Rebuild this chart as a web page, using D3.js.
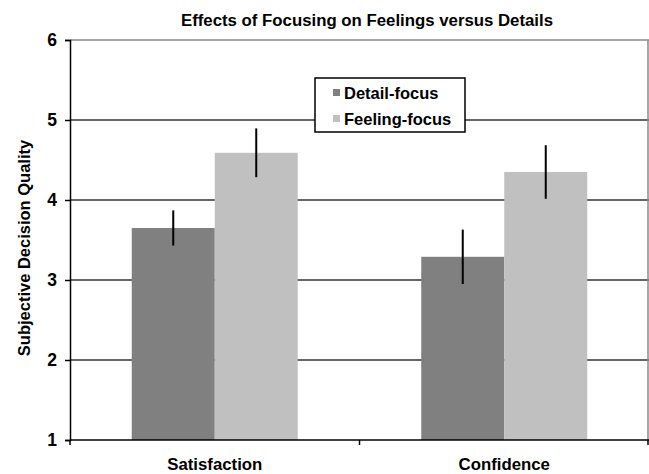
<!DOCTYPE html>
<html>
<head>
<meta charset="utf-8">
<script src="https://cdn.jsdelivr.net/npm/d3@7/dist/d3.min.js"></script>
<style>
  html, body { margin: 0; padding: 0; background: #fff; }
  svg { display: block; }
  text { font-family: "Liberation Sans", Arial, Helvetica, sans-serif; font-weight: bold; fill: #000; }
</style>
</head>
<body>
<svg id="chart" width="649" height="474"></svg>
<script>
const categories = ["Satisfaction", "Confidence"];
const seriesNames = ["Detail-focus", "Feeling-focus"];
const detailValues = [3.65, 3.29];
const detailErrors = [0.22, 0.34];
const feelingValues = [4.59, 4.35];
const feelingErrors = [0.305, 0.335];
const yTicks = [1, 2, 3, 4, 5, 6];
const title = "Effects of Focusing on Feelings versus Details";
const yLabel = "Subjective Decision Quality";
const colors = ["#808080", "#c0c0c0"];

(function () {
const rows = categories.map((c, i) => ({
  category: c,
  values: [
    { series: seriesNames[0], value: detailValues[i], err: detailErrors[i] },
    { series: seriesNames[1], value: feelingValues[i], err: feelingErrors[i] }
  ]
}));

const svg = d3.select("#chart");
const mLeft = 70, mRight = 649, mTop = 40, mBottom = 440;

const x0 = d3.scaleBand().domain(categories).range([mLeft, mRight]).padding(0);
const x1 = d3.scaleBand().domain(seriesNames).range([0, x0.bandwidth()]).paddingInner(0).paddingOuter(0.744);
const y = d3.scaleLinear().domain([1, 6]).range([mBottom, mTop]);
const color = d3.scaleOrdinal().domain(seriesNames).range(colors);

// gridlines
svg.append("g").selectAll("line").data(yTicks.filter(t => t > 1 && t < 6)).join("line")
  .attr("x1", mLeft).attr("x2", mRight)
  .attr("y1", d => y(d)).attr("y2", d => y(d))
  .attr("stroke", "#333").attr("stroke-width", 1.5);

// top and right border
svg.append("line").attr("x1", mLeft).attr("x2", mRight).attr("y1", y(6)).attr("y2", y(6))
  .attr("stroke", "#8a8a8a").attr("stroke-width", 1.5);
svg.append("line").attr("x1", mRight - 1).attr("x2", mRight - 1).attr("y1", y(6)).attr("y2", mBottom)
  .attr("stroke", "#8a8a8a").attr("stroke-width", 1.5);

// bars
const groups = svg.append("g").selectAll("g").data(rows).join("g")
  .attr("transform", d => `translate(${x0(d.category)},0)`);
groups.selectAll("rect").data(d => d.values).join("rect")
  .attr("x", d => x1(d.series))
  .attr("width", x1.bandwidth())
  .attr("y", d => y(d.value))
  .attr("height", d => y(1) - y(d.value))
  .attr("fill", d => color(d.series));
groups.selectAll("line.err").data(d => d.values).join("line")
  .attr("class", "err")
  .attr("x1", d => x1(d.series) + x1.bandwidth() / 2)
  .attr("x2", d => x1(d.series) + x1.bandwidth() / 2)
  .attr("y1", d => y(d.value - d.err))
  .attr("y2", d => y(d.value + d.err))
  .attr("stroke", "#000").attr("stroke-width", 2);

// y axis
const yAxis = svg.append("g").attr("transform", `translate(${mLeft},0)`)
  .call(d3.axisLeft(y).tickValues(yTicks).tickFormat(d3.format("d")).tickSize(5).tickPadding(8));
yAxis.select(".domain").attr("stroke", "#000").attr("stroke-width", 1.5);
yAxis.selectAll(".tick line").attr("stroke", "#000").attr("stroke-width", 1.5);
yAxis.selectAll(".tick text").style("font-size", "17.5px").style("font-weight", "bold")
  .style("font-family", "'Liberation Sans', Arial, sans-serif").attr("fill", "#000");

// x axis
const xAxisG = svg.append("g").attr("transform", `translate(0,${mBottom})`);
xAxisG.append("line").attr("x1", mLeft).attr("x2", mRight).attr("y1", 0).attr("y2", 0)
  .attr("stroke", "#000").attr("stroke-width", 1.5);
const boundaries = categories.map(c => x0(c)).concat([x0(categories[categories.length - 1]) + x0.bandwidth() - 1]);
xAxisG.selectAll("line.tk").data(boundaries).join("line").attr("class", "tk")
  .attr("x1", d => d).attr("x2", d => d).attr("y1", 0).attr("y2", 5)
  .attr("stroke", "#000").attr("stroke-width", 1.5);
xAxisG.selectAll("text").data(categories).join("text")
  .attr("x", d => x0(d) + x0.bandwidth() / 2)
  .attr("y", 29.5)
  .attr("text-anchor", "middle")
  .style("font-size", "16.8px")
  .text(d => d);

// title
svg.append("text").attr("x", 367).attr("y", 26).attr("text-anchor", "middle")
  .style("font-size", "16.8px").text(title);

// y label
svg.append("text").attr("transform", `translate(30,248) rotate(-90)`)
  .attr("text-anchor", "middle").style("font-size", "16.5px").text(yLabel);

// legend
const lg = svg.append("g").attr("transform", "translate(315,78)");
lg.append("rect").attr("x", 0).attr("y", 0).attr("width", 150).attr("height", 54)
  .attr("fill", "#fff").attr("stroke", "#000").attr("stroke-width", 1.5);
const items = lg.selectAll("g").data(seriesNames).join("g")
  .attr("transform", (d, i) => `translate(18,${11 + i * 26})`);
items.append("rect").attr("width", 7).attr("height", 7).attr("fill", d => color(d));
items.append("text").attr("x", 11).attr("y", 9.5).style("font-size", "16.5px").text(d => d);
})();
</script>
</body>
</html>
